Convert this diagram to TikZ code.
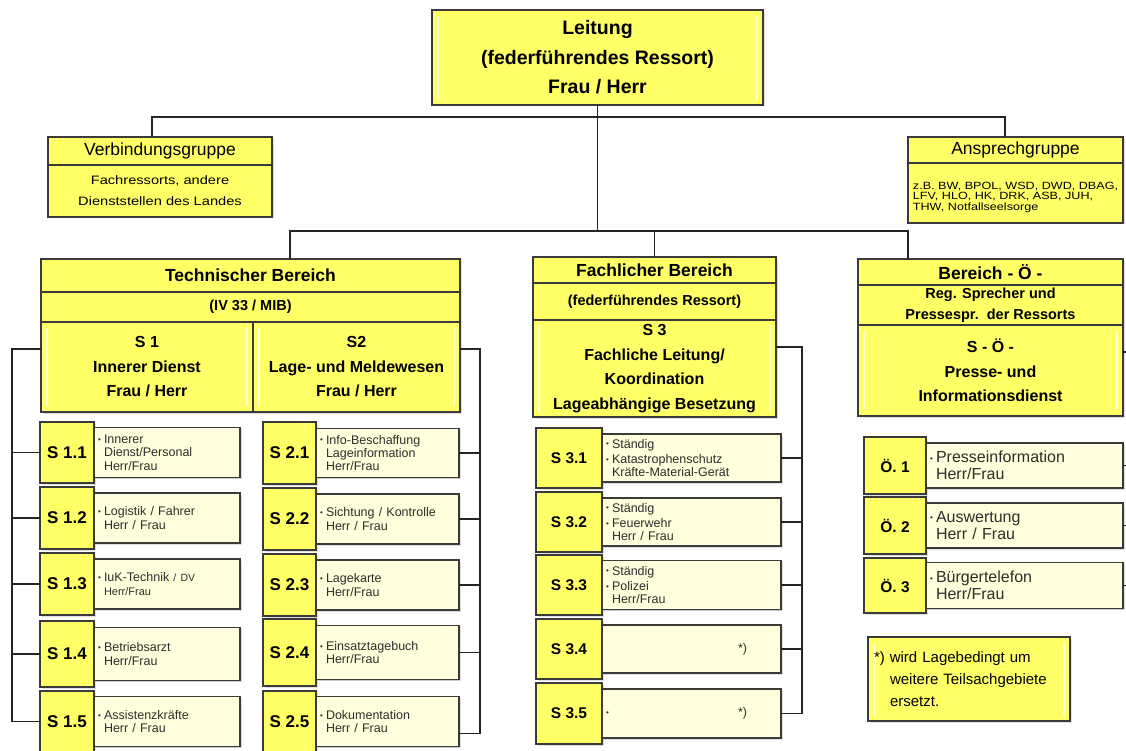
\documentclass[tikz,border=0pt]{standalone}
\usepackage{fontspec}
\setmainfont{Liberation Sans}
\newfontfamily\widefont[FakeStretch=1.2]{Liberation Sans}
\usetikzlibrary{positioning,shadows}

\definecolor{orgyellow}{RGB}{255,255,102}
\definecolor{orgpale}{RGB}{255,255,221}
\definecolor{orgframe}{RGB}{58,58,58}
\definecolor{orgline}{RGB}{35,35,35}
\definecolor{orgtext}{RGB}{45,45,45}

\newcommand{\bul}{\makebox[6pt][l]{\raisebox{0.1em}{\fontsize{8}{8}\selectfont\textbullet}}}
\newcommand{\nob}{\hspace*{6pt}}

\begin{document}
\begin{tikzpicture}[
  x=1pt, y=-1pt,
  conn/.style={draw=orgline, line width=1.6pt}, % lines between the boxes
  box/.style={draw=orgframe, line width=1.4pt, fill=orgyellow, outer sep=0pt, inner sep=2pt, align=center,
    drop shadow={shadow xshift=1.5pt, shadow yshift=-1.5pt, opacity=0.25}}, % every box
  bevel/.style={path picture={
    \draw[white, line width=1.6pt, opacity=0.75]
      ([shift={(6pt,-6pt)}]path picture bounding box.north west) -- ([shift={(6pt,6pt)}]path picture bounding box.south west)
      ([shift={(-6pt,-6pt)}]path picture bounding box.north east) -- ([shift={(-6pt,6pt)}]path picture bounding box.south east);}},
  headbox/.style={box, font=\fontsize{17.5}{20}\selectfont\bfseries}, % title of a section
  subbox/.style={box, font=\fontsize{14.5}{21}\selectfont\bfseries}, % second row of a section
  panel/.style={box, bevel, font=\fontsize{16}{24.5}\selectfont\bfseries}, % S 1, S2, S 3, S - Ö -
  numbox/.style={box, font=\fontsize{17}{20}\selectfont\bfseries}, % S 1.1 ...
  infobox/.style={box, fill=orgpale, align=left, inner xsep=4pt, inner ysep=0pt, text=orgtext,
    font=\fontsize{12.5}{13.3}\selectfont, drop shadow={shadow xshift=1.2pt, shadow yshift=-1.2pt, opacity=0.2}}
  ]

  \path[use as bounding box, fill=white] (0,0) rectangle (1126,751);

  % Leitung
  \node[box, bevel, minimum width=331pt, minimum height=95pt, font=\fontsize{19.5}{29.5}\selectfont\bfseries] (lead) at (597.5,57.5)
    {Leitung\\(federführendes Ressort)\\Frau / Herr};

  % Verbindungsgruppe und Ansprechgruppe
  \node[box, minimum width=224pt, minimum height=28pt, font=\fontsize{17.5}{20}\selectfont] (verbhead) at (160,151) {Verbindungsgruppe};
  \node[box, minimum width=224pt, minimum height=52pt, below=0pt of verbhead, font=\fontsize{12.2}{21}\widefont] (verbbody)
    {Fachressorts, andere\\Dienststellen des Landes};
  \node[box, minimum width=215pt, minimum height=26pt, font=\fontsize{17.5}{20}\selectfont] (ansphead) at (1015.5,150) {Ansprechgruppe};
  \node[box, minimum width=215pt, minimum height=60pt, below=0pt of ansphead, align=left, inner xsep=1.5pt,
    font=\fontsize{10.5}{10.5}\widefont] (anspbody)
    {\rule{0pt}{16pt}z.B. BW, BPOL, WSD, DWD, DBAG,\\LFV, HLO, HK, DRK, ASB, JUH,\\THW, Notfallseelsorge};

  % Technischer Bereich
  \node[headbox, minimum width=419pt, minimum height=33pt] (techhead) at (250.5,275.5) {Technischer Bereich};
  \node[subbox, minimum width=419pt, minimum height=30pt, below=0pt of techhead] (techsub) {(IV 33 / MIB)};
  \node[panel, minimum width=212pt, minimum height=90pt, below right=0pt and 0pt of techsub.south west] (s1)
    {S 1\\Innerer Dienst\\Frau / Herr};
  \node[panel, minimum width=207pt, minimum height=90pt, right=0pt of s1] (s2)
    {S2\\Lage- und Meldewesen\\Frau / Herr};

  % Fachlicher Bereich
  \node[headbox, minimum width=243pt, minimum height=26pt] (fachhead) at (654.5,270) {Fachlicher Bereich};
  \node[subbox, minimum width=243pt, minimum height=37pt, below=0pt of fachhead] (fachsub) {(federführendes Ressort)};
  \node[panel, minimum width=243pt, minimum height=97pt, below=0pt of fachsub, font=\fontsize{16}{24.7}\selectfont\bfseries] (s3)
    {S 3\\Fachliche Leitung/\\Koordination\\Lageabhängige Besetzung};

  % Bereich - Ö -
  \node[headbox, minimum width=265pt, minimum height=26pt] (oeffhead) at (990.5,272) {Bereich - Ö -};
  \node[subbox, minimum width=265pt, minimum height=40pt, below=0pt of oeffhead] (oeffsub)
    {Reg. Sprecher und\\Pressespr.\ \ der Ressorts};
  \node[panel, minimum width=265pt, minimum height=91pt, below=0pt of oeffsub] (so)
    {S - Ö -\\Presse- und\\Informationsdienst};

  % S 1.x
  \node[numbox, minimum width=54pt, minimum height=61pt] (s11) at (67,452.5) {S 1.1};
  \node[infobox, text width=138pt, minimum height=50pt, right=0pt of s11] (s11i) {\bul Innerer\\\nob Dienst/Personal\\\nob Herr/Frau};
  \node[numbox, minimum width=54pt, minimum height=62pt] (s12) at (67,518) {S 1.2};
  \node[infobox, text width=138pt, minimum height=50pt, right=0pt of s12] (s12i) {\bul Logistik / Fahrer\\\nob Herr / Frau};
  \node[numbox, minimum width=54pt, minimum height=62pt] (s13) at (67,584) {S 1.3};
  \node[infobox, text width=138pt, minimum height=50pt, right=0pt of s13] (s13i)
    {\bul IuK-Technik {\fontsize{10.5}{13.3}\selectfont/ DV}\\\nob{\fontsize{11}{13.3}\selectfont Herr/Frau}};
  \node[numbox, minimum width=54pt, minimum height=66pt] (s14) at (67,654) {S 1.4};
  \node[infobox, text width=138pt, minimum height=53pt, right=0pt of s14] (s14i) {\bul Betriebsarzt\\\nob Herr/Frau};
  \node[numbox, minimum width=54pt, minimum height=61pt] (s15) at (67,721.5) {S 1.5};
  \node[infobox, text width=138pt, minimum height=50pt, right=0pt of s15] (s15i) {\bul Assistenzkräfte\\\nob Herr / Frau};

  % S 2.x
  \node[numbox, minimum width=53pt, minimum height=62pt] (s21) at (289.5,453) {S 2.1};
  \node[infobox, text width=135pt, minimum height=49pt, right=0pt of s21] (s21i) {\bul Info-Beschaffung\\\nob Lageinformation\\\nob Herr/Frau};
  \node[numbox, minimum width=53pt, minimum height=62pt] (s22) at (289.5,519) {S 2.2};
  \node[infobox, text width=135pt, minimum height=50pt, right=0pt of s22] (s22i) {\bul Sichtung / Kontrolle\\\nob Herr / Frau};
  \node[numbox, minimum width=53pt, minimum height=62pt] (s23) at (289.5,585) {S 2.3};
  \node[infobox, text width=135pt, minimum height=50pt, right=0pt of s23] (s23i) {\bul Lagekarte\\\nob Herr/Frau};
  \node[numbox, minimum width=53pt, minimum height=67pt] (s24) at (289.5,652.5) {S 2.4};
  \node[infobox, text width=135pt, minimum height=54pt, right=0pt of s24] (s24i) {\bul Einsatztagebuch\\\nob Herr/Frau};
  \node[numbox, minimum width=53pt, minimum height=61pt] (s25) at (289.5,721.5) {S 2.5};
  \node[infobox, text width=135pt, minimum height=50pt, right=0pt of s25] (s25i) {\bul Dokumentation\\\nob Herr / Frau};

  % S 3.x
  \node[numbox, minimum width=66pt, minimum height=60pt, font=\fontsize{15.5}{18}\selectfont\bfseries] (s31) at (569,458) {S 3.1};
  \node[infobox, text width=171pt, minimum height=48pt, right=0pt of s31] (s31i) {\bul Ständig\\[2pt]\bul Katastrophenschutz\\\nob Kräfte-Material-Gerät};
  \node[numbox, minimum width=66pt, minimum height=60pt, font=\fontsize{15.5}{18}\selectfont\bfseries] (s32) at (569,522) {S 3.2};
  \node[infobox, text width=171pt, minimum height=48pt, right=0pt of s32] (s32i) {\bul Ständig\\[2pt]\bul Feuerwehr\\\nob Herr / Frau};
  \node[numbox, minimum width=66pt, minimum height=60pt, font=\fontsize{15.5}{18}\selectfont\bfseries] (s33) at (569,585) {S 3.3};
  \node[infobox, text width=171pt, minimum height=49pt, right=0pt of s33] (s33i) {\bul Ständig\\[2pt]\bul Polizei\\\nob Herr/Frau};
  \node[numbox, minimum width=66pt, minimum height=60pt, font=\fontsize{15.5}{18}\selectfont\bfseries] (s34) at (569,649) {S 3.4};
  \node[infobox, text width=171pt, minimum height=48pt, right=0pt of s34] (s34i) {\hspace*{132pt}*)};
  \node[numbox, minimum width=66pt, minimum height=61pt, font=\fontsize{15.5}{18}\selectfont\bfseries] (s35) at (569,713.5) {S 3.5};
  \node[infobox, text width=171pt, minimum height=49pt, right=0pt of s35] (s35i) {\bul\hspace*{126pt}*)};

  % Ö.x
  \node[numbox, minimum width=62pt, minimum height=57pt, font=\fontsize{15.5}{18}\selectfont\bfseries] (o1) at (895,465.5) {Ö. 1};
  \node[infobox, text width=189pt, minimum height=45pt, right=0pt of o1, font=\fontsize{16}{16.7}\selectfont] (o1i) {\bul Presseinformation\\\nob Herr/Frau};
  \node[numbox, minimum width=62pt, minimum height=57pt, font=\fontsize{15.5}{18}\selectfont\bfseries] (o2) at (895,525.5) {Ö. 2};
  \node[infobox, text width=189pt, minimum height=45pt, right=0pt of o2, font=\fontsize{16}{16.7}\selectfont] (o2i) {\bul Auswertung\\\nob Herr / Frau};
  \node[numbox, minimum width=62pt, minimum height=55pt, font=\fontsize{15.5}{18}\selectfont\bfseries] (o3) at (895,585.5) {Ö. 3};
  \node[infobox, text width=189pt, minimum height=46pt, right=0pt of o3, font=\fontsize{16}{16.7}\selectfont] (o3i) {\bul Bürgertelefon\\\nob Herr/Frau};

  % footnote
  \node[box, bevel, minimum width=202pt, minimum height=84pt, text width=190pt, align=left, font=\fontsize{15}{22}\selectfont] (note) at (969,679)
    {*) wird Lagebedingt um\\\hspace*{16pt}weitere Teilsachgebiete\\\hspace*{16pt}ersetzt.};

  % lines
  \coordinate (vg) at (152,117);
  \coordinate (ag) at (1005,117);
  \coordinate (tb) at (290,231);
  \coordinate (ob) at (908,231);
  \coordinate (lbus) at (12,349);
  \coordinate (rbus) at (480,349);
  \coordinate (mbus) at (802,347);
  \coordinate (obus) at (1134,352);

  \draw[conn] (lead.south) -- (lead.south |- tb);
  \draw[conn] (vg |- verbhead.north) -- (vg) -- (ag) -- (ag |- ansphead.north);
  \draw[conn] (tb |- techhead.north) -- (tb) -- (ob) -- (ob |- oeffhead.north);
  \draw[conn] (fachhead.north) -- (fachhead.north |- tb);

  \draw[conn] ([yshift=18pt]s1.west) -- (lbus) |- (s15.west);
  \draw[conn] (s11.west) -- (s11.west -| lbus);
  \draw[conn] (s12.west) -- (s12.west -| lbus);
  \draw[conn] (s13.west) -- (s13.west -| lbus);
  \draw[conn] (s14.west) -- (s14.west -| lbus);

  \draw[conn] ([yshift=18pt]s2.east) -- (rbus) |- ([yshift=-12pt]s25i.east);
  \draw[conn] (s21i.east) -- (s21i.east -| rbus);
  \draw[conn] (s22i.east) -- (s22i.east -| rbus);
  \draw[conn] (s23i.east) -- (s23i.east -| rbus);
  \draw[conn] (s24i.east) -- (s24i.east -| rbus);

  \draw[conn] ([yshift=21.5pt]s3.east) -- (mbus) |- (s35i.east);
  \draw[conn] (s31i.east) -- (s31i.east -| mbus);
  \draw[conn] (s32i.east) -- (s32i.east -| mbus);
  \draw[conn] (s33i.east) -- (s33i.east -| mbus);
  \draw[conn] (s34i.east) -- (s34i.east -| mbus);

  \draw[conn] ([yshift=18.5pt]so.east) -- (obus) |- (o3i.east);
  \draw[conn] (o1i.east) -- (o1i.east -| obus);
  \draw[conn] (o2i.east) -- (o2i.east -| obus);
\end{tikzpicture}
\end{document}
